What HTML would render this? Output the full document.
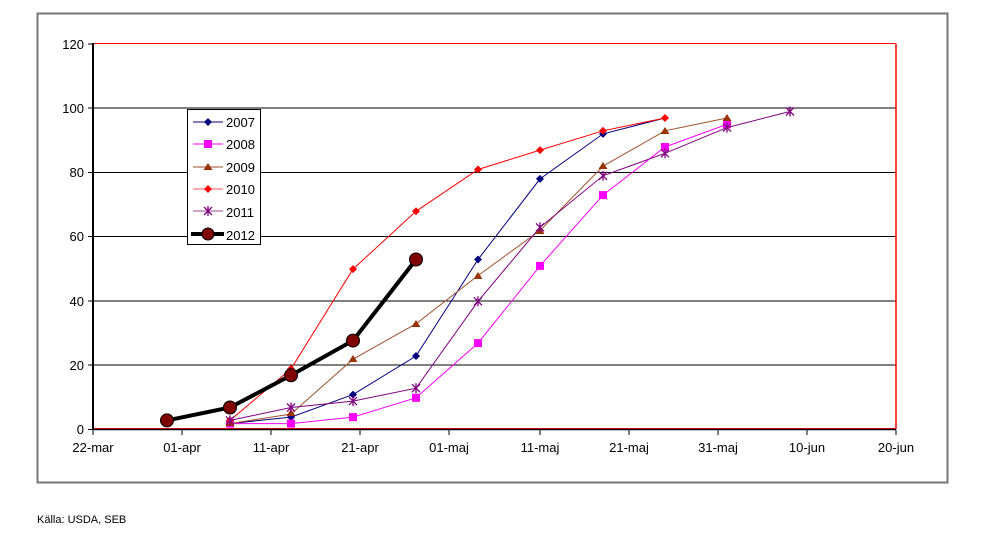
<!DOCTYPE html>
<html><head><meta charset="utf-8"><style>body{margin:0;background:#fff}svg{display:block}text{font-family:"Liberation Sans",sans-serif}</style></head><body>
<svg width="983" height="547" xmlns="http://www.w3.org/2000/svg">
<rect x="37.5" y="13.5" width="910" height="469" fill="#fff" stroke="#777" stroke-width="2"/>
<g stroke="#000" stroke-width="1">
<line x1="93" y1="108" x2="896" y2="108"/><line x1="93" y1="172.5" x2="896" y2="172.5"/><line x1="93" y1="236.5" x2="896" y2="236.5"/><line x1="93" y1="301" x2="896" y2="301"/><line x1="93" y1="365" x2="896" y2="365"/>
</g>
<line x1="93" y1="43.5" x2="896" y2="43.5" stroke="#f00"/>
<line x1="896" y1="43.5" x2="896" y2="429" stroke="#f00" stroke-width="1.5"/>
<line x1="93" y1="429.5" x2="896" y2="429.5" stroke="#000" stroke-width="1.5"/>
<line x1="93" y1="428.5" x2="896" y2="428.5" stroke="#c00" stroke-width="1"/>
<line x1="93" y1="43" x2="93" y2="430" stroke="#000" stroke-width="2"/>
<g stroke="#000"><line x1="88" y1="44" x2="93" y2="44"/><line x1="88" y1="108" x2="93" y2="108"/><line x1="88" y1="172.5" x2="93" y2="172.5"/><line x1="88" y1="236.5" x2="93" y2="236.5"/><line x1="88" y1="301" x2="93" y2="301"/><line x1="88" y1="365" x2="93" y2="365"/><line x1="88" y1="429.5" x2="93" y2="429.5"/>
<line x1="93" y1="430" x2="93" y2="435"/><line x1="182" y1="430" x2="182" y2="435"/><line x1="271" y1="430" x2="271" y2="435"/><line x1="360" y1="430" x2="360" y2="435"/><line x1="449" y1="430" x2="449" y2="435"/><line x1="540" y1="430" x2="540" y2="435"/><line x1="629" y1="430" x2="629" y2="435"/><line x1="718" y1="430" x2="718" y2="435"/><line x1="807" y1="430" x2="807" y2="435"/><line x1="896" y1="430" x2="896" y2="435"/></g>
<g font-size="13" text-anchor="end" fill="#000"><text x="84" y="49">120</text><text x="84" y="113">100</text><text x="84" y="177">80</text><text x="84" y="241">60</text><text x="84" y="306">40</text><text x="84" y="370">20</text><text x="84" y="434">0</text></g>
<g font-size="13" text-anchor="middle" fill="#000"><text x="93" y="452">22-mar</text><text x="182" y="452">01-apr</text><text x="271" y="452">11-apr</text><text x="360" y="452">21-apr</text><text x="449" y="452">01-maj</text><text x="540" y="452">11-maj</text><text x="629" y="452">21-maj</text><text x="718" y="452">31-maj</text><text x="807" y="452">10-jun</text><text x="896" y="452">20-jun</text></g>
<text x="37" y="523" font-size="11">Källa: USDA, SEB</text>
<!-- 2007 -->
<polyline fill="none" stroke="#000080" points="230,423.6 291,417.1 353,394.6 416,356 478,259.5 540,178.9 603,133.9 665,118"/>
<g fill="#000080"><path d="M230 419.6l4 4-4 4-4-4z"/><path d="M291 413.1l4 4-4 4-4-4z"/><path d="M353 390.6l4 4-4 4-4-4z"/><path d="M416 352l4 4-4 4-4-4z"/><path d="M478 255.5l4 4-4 4-4-4z"/><path d="M540 174.9l4 4-4 4-4-4z"/><path d="M603 129.9l4 4-4 4-4-4z"/></g>
<!-- 2008 -->
<polyline fill="none" stroke="#f0f" points="230,423.6 291,423.6 353,417.1 416,397.8 478,343.1 540,265.9 603,195.1 665,147 727,124.3"/>
<g fill="#f0f"><rect x="226" y="419.6" width="8" height="8"/><rect x="287" y="419.6" width="8" height="8"/><rect x="349" y="413.1" width="8" height="8"/><rect x="412" y="393.8" width="8" height="8"/><rect x="474" y="339.1" width="8" height="8"/><rect x="536" y="261.9" width="8" height="8"/><rect x="599" y="191.1" width="8" height="8"/><rect x="661" y="143" width="8" height="8"/><rect x="723" y="120.3" width="8" height="8"/></g>
<!-- 2009 -->
<polyline fill="none" stroke="#a0522d" points="230,423.6 291,414 353,359.2 416,323.8 478,275.6 540,230.5 603,166.2 665,130.8 727,118"/>
<g fill="#993300"><path d="M230 419l4.5 7h-9z"/><path d="M291 409l4.5 7h-9z"/><path d="M353 355l4.5 7h-9z"/><path d="M416 320l4.5 7h-9z"/><path d="M478 272l4.5 7h-9z"/><path d="M540 227l4.5 7h-9z"/><path d="M603 162l4.5 7h-9z"/><path d="M665 127l4.5 7h-9z"/><path d="M727 114l4.5 7h-9z"/></g>
<!-- 2010 -->
<polyline fill="none" stroke="#f00" points="230,420.4 291,368.9 353,269.1 416,211.3 478,169.5 540,150.1 603,130.8 665,118"/>
<g fill="#f00"><path d="M230 416.4l4 4-4 4-4-4z"/><path d="M291 364.9l4 4-4 4-4-4z"/><path d="M353 265.1l4 4-4 4-4-4z"/><path d="M416 207.3l4 4-4 4-4-4z"/><path d="M478 165.5l4 4-4 4-4-4z"/><path d="M540 146.1l4 4-4 4-4-4z"/><path d="M603 126.8l4 4-4 4-4-4z"/><path d="M665 114l4 4-4 4-4-4z"/></g>
<!-- 2011 -->
<polyline fill="none" stroke="#800080" points="230,420.4 291,407.5 353,401.1 416,388.2 478,301.3 540,227.3 603,175.8 665,153.3 727,127.6 790,111.5"/>
<g stroke="#800080" stroke-width="1.3"><path d="M226 416.4l8 8M234 416.4l-8 8M230 415.4v10"/><path d="M287 403.5l8 8M295 403.5l-8 8M291 402.5v10"/><path d="M349 397.1l8 8M357 397.1l-8 8M353 396.1v10"/><path d="M412 384.2l8 8M420 384.2l-8 8M416 383.2v10"/><path d="M474 297.3l8 8M482 297.3l-8 8M478 296.3v10"/><path d="M536 223.3l8 8M544 223.3l-8 8M540 222.3v10"/><path d="M599 171.8l8 8M607 171.8l-8 8M603 170.8v10"/><path d="M661 149.3l8 8M669 149.3l-8 8M665 148.3v10"/><path d="M723 123.6l8 8M731 123.6l-8 8M727 122.6v10"/><path d="M786 107.5l8 8M794 107.5l-8 8M790 106.5v10"/></g>
<!-- 2012 -->
<polyline fill="none" stroke="#000" stroke-width="4" points="167,420.4 230,407.5 291,375.3 353,340.6 416,259.5"/>
<g fill="#800000" stroke="#000" stroke-width="1"><circle cx="167" cy="420.4" r="6.5"/><circle cx="230" cy="407.5" r="6.5"/><circle cx="291" cy="375.3" r="6.5"/><circle cx="353" cy="340.6" r="6.5"/><circle cx="416" cy="259.5" r="6.5"/></g>
<!-- legend -->
<rect x="187.5" y="109.5" width="73" height="135" fill="#fff" stroke="#000"/>
<g font-size="13" fill="#000"><text x="226" y="127">2007</text><text x="226" y="149">2008</text><text x="226" y="172">2009</text><text x="226" y="194">2010</text><text x="226" y="217">2011</text><text x="226" y="240">2012</text></g>
<line x1="193" y1="122" x2="223" y2="122" stroke="#000080"/><path d="M208 118l4 4-4 4-4-4z" fill="#000080"/>
<line x1="193" y1="144" x2="223" y2="144" stroke="#f0f"/><rect x="204" y="140" width="8" height="8" fill="#f0f"/>
<line x1="193" y1="167" x2="223" y2="167" stroke="#a0522d"/><path d="M208 163l4.5 7h-9z" fill="#993300"/>
<line x1="193" y1="189" x2="223" y2="189" stroke="#f55"/><path d="M208 185l4 4-4 4-4-4z" fill="#f00"/>
<line x1="193" y1="211" x2="223" y2="211" stroke="#949"/><path d="M204 207l8 8M212 207l-8 8M208 206v10" stroke="#800080" stroke-width="1.3"/>
<line x1="191" y1="234" x2="224" y2="234" stroke="#000" stroke-width="4"/><circle cx="208" cy="234" r="6" fill="#800000" stroke="#000"/>
</svg>
</body></html>
